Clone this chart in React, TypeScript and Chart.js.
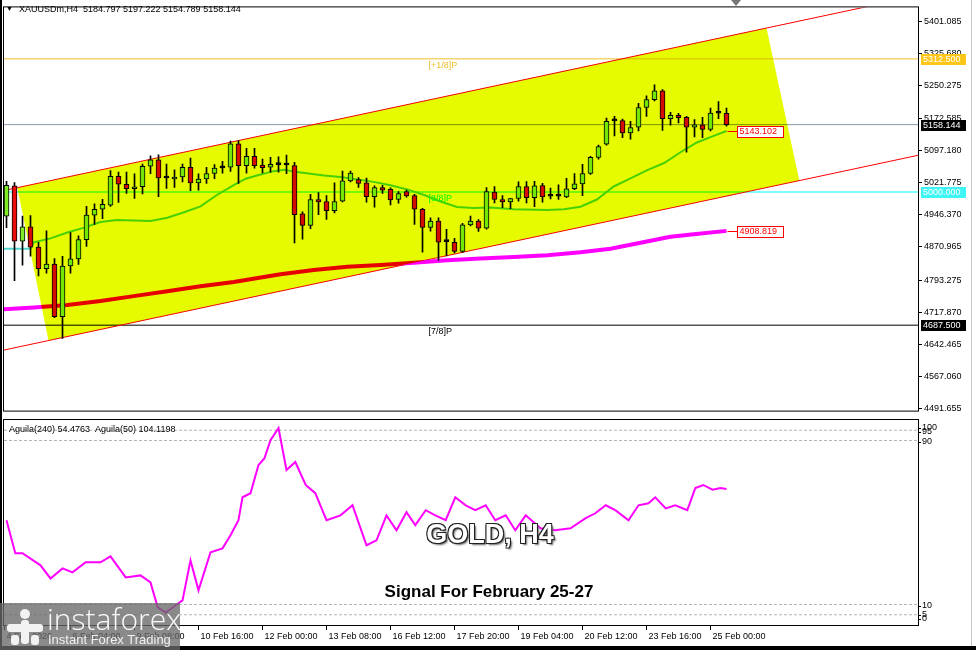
import { useEffect, useRef } from 'react';
import { Chart, registerables } from 'chart.js';

Chart.register(...registerables);
Chart.defaults.font.family = "'Liberation Sans', Arial, sans-serif";

// ---------- XAUUSDm H4 candles (index 0 = 4 Feb 2026 00:00) ----------
const barOpen = [
  4943.4, 5014.6, 4884.4, 4918.1, 4870.6, 4820.0, 4830.8, 4707.5, 4826.3, 4843.0,
  4888.3, 4945.7, 4959.5, 4969.3, 5036.6, 5018.2, 5007.7, 5012.3, 5060.5, 5075.7,
  5032.9, 5030.6, 5035.2, 5058.2, 5021.5, 5030.6, 5043.5, 5056.6, 5058.2, 5113.3,
  5061.9, 5083.5, 5063.5, 5058.2, 5064.2, 5063.5, 5061.9, 4948.7, 4921.8, 4982.4,
  4977.8, 4956.2, 4978.5, 5026.1, 5029.0, 5021.5, 4989.3, 5010.7, 5006.1, 4982.4,
  5000.8, 4991.6, 4959.5, 4917.2, 4931.9, 4883.7, 4882.1, 4860.7, 4922.7, 4931.9,
  4914.9, 4999.9, 4982.4, 4976.9, 4984.7, 5013.0, 4987.0, 5015.3, 4990.0, 4990.0,
  4988.4, 5007.7, 5019.2, 5043.5, 5081.2, 5112.4, 5166.8, 5167.5, 5138.6, 5152.4,
  5198.3, 5216.7, 5237.3, 5172.1, 5179.9, 5175.3, 5152.4, 5157.6, 5146.9, 5185.2,
  5184.797,
];
const barHigh = [
  5025.1, 5022.2, 4943.4, 4944.8, 4882.1, 4908.9, 4843.7, 4849.2, 4905.0, 4897.4,
  4966.3, 4972.3, 4983.1, 5050.4, 5046.7, 5046.7, 5042.8, 5065.8, 5084.8, 5087.1,
  5065.8, 5052.0, 5065.8, 5079.6, 5042.8, 5058.2, 5064.2, 5072.0, 5119.3, 5120.9,
  5102.5, 5102.5, 5077.3, 5081.2, 5082.5, 5086.5, 5069.7, 4953.3, 4994.6, 4998.5,
  4991.6, 5021.5, 5049.0, 5049.0, 5033.6, 5032.9, 5014.6, 5015.9, 5010.0, 5000.8,
  5004.5, 4994.6, 4961.7, 4939.5, 4939.5, 4912.6, 4891.2, 4926.4, 4943.4, 4935.6,
  5010.7, 5013.0, 4991.6, 4985.4, 5023.8, 5024.4, 5025.1, 5020.5, 5009.1, 5016.9,
  5032.0, 5043.5, 5065.1, 5083.5, 5110.1, 5173.7, 5177.6, 5171.4, 5166.1, 5208.2,
  5225.9, 5251.8, 5240.3, 5186.8, 5184.5, 5177.6, 5169.8, 5175.3, 5196.7, 5212.1,
  5197.222,
];
const barLow = [
  4916.5, 4791.8, 4828.5, 4849.2, 4803.3, 4809.3, 4705.0, 4656.3, 4809.3, 4829.9,
  4872.2, 4924.1, 4937.2, 4966.3, 4975.5, 4996.9, 4984.7, 4995.3, 5042.8, 4989.3,
  5008.4, 5010.7, 5023.8, 5003.1, 5004.5, 5019.9, 5031.3, 5044.4, 5048.1, 5019.9,
  5044.4, 5055.9, 5045.1, 5046.7, 5046.7, 5042.8, 4880.5, 4889.6, 4914.2, 4947.1,
  4935.6, 4950.9, 4976.9, 5023.8, 5010.7, 4976.2, 4964.7, 4996.9, 4970.0, 4973.9,
  4987.7, 4924.1, 4859.1, 4908.0, 4840.0, 4849.9, 4857.0, 4858.0, 4920.4, 4907.3,
  4912.6, 4974.6, 4963.1, 4960.8, 4978.5, 4974.6, 4965.4, 4976.2, 4983.8, 4982.4,
  4987.0, 5005.4, 4991.6, 5041.2, 5077.3, 5110.1, 5131.7, 5127.8, 5123.9, 5143.2,
  5177.6, 5213.5, 5144.6, 5157.0, 5162.2, 5093.3, 5129.4, 5127.8, 5143.2, 5172.1,
  5154.789,
];
const barClose = [
  5015.9, 4884.4, 4918.1, 4870.6, 4820.0, 4830.8, 4707.5, 4826.3, 4843.0, 4888.3,
  4945.7, 4959.5, 4970.9, 5036.6, 5018.2, 5007.7, 5012.3, 5060.5, 5075.7, 5032.9,
  5032.9, 5035.2, 5058.2, 5021.5, 5030.6, 5043.5, 5055.9, 5056.6, 5113.3, 5061.9,
  5083.5, 5061.9, 5057.3, 5065.1, 5064.2, 5063.5, 4947.1, 4921.8, 4982.4, 4976.9,
  4956.2, 4977.8, 5026.1, 5044.4, 5019.9, 4989.3, 5010.7, 5004.5, 4981.5, 4996.2,
  4990.7, 4959.5, 4917.2, 4931.9, 4882.1, 4883.7, 4860.7, 4922.7, 4931.9, 4914.9,
  5000.8, 4982.4, 4976.9, 4984.7, 5013.0, 4987.0, 5014.6, 4988.4, 4990.0, 4990.0,
  5007.7, 5019.2, 5043.5, 5081.2, 5106.4, 5166.1, 5166.8, 5138.6, 5151.4, 5198.3,
  5216.7, 5237.3, 5172.1, 5179.9, 5174.4, 5152.4, 5157.6, 5146.9, 5185.2, 5184.8,
  5158.144,
];

// time axis
const xTickBars = [-0.25, 8, 16, 24, 32, 40, 48, 56, 64, 72, 80, 88];
const xTickLabels = [
  '4 Feb 2026', '6 Feb 04:00', '9 Feb 08:00', '10 Feb 16:00', '12 Feb 00:00', '13 Feb 08:00',
  '16 Feb 12:00', '17 Feb 20:00', '19 Feb 04:00', '20 Feb 12:00', '23 Feb 16:00', '25 Feb 00:00',
];

// price axis
const priceTicks = [
  5401.085, 5325.68, 5250.275, 5172.585, 5097.18, 5021.775, 4946.37,
  4870.965, 4793.275, 4717.87, 4642.465, 4567.06, 4491.655,
];

// fast moving average (bar index, price)
const emaBars = [
  -0.5, 3.0, 3.4, 5.5, 7.6, 9.7, 11.75, 13.8, 15.9, 18, 20.1, 22.2, 24.25, 26.3, 28.4, 29.9,
  31.3, 33.4, 34.7, 36.3, 39.7, 41.75, 45.9, 48, 50.1, 52.2, 54.25, 56.3, 58.4, 60.5, 63.4,
  67.6, 69.7, 71.75, 73.8, 75.9, 78, 80.1, 82.2, 84.25, 86.3, 88.4, 90,
];
const emaValues = [
  4866.7, 4866.7, 4882.1, 4891.2, 4905.0, 4916.5, 4929.6, 4934.2, 4933.3, 4931.9, 4939.5,
  4952.6, 4966.3, 4993.0, 5016.0, 5031.3, 5038.9, 5049.0, 5052.0, 5046.7, 5038.9, 5035.2,
  5023.8, 5016.0, 5006.1, 4993.0, 4977.8, 4964.7, 4962.4, 4963.6, 4959.5, 4957.8, 4959.5,
  4965.4, 4982.4, 5013.0, 5032.0, 5051.3, 5068.1, 5093.3, 5116.3, 5131.7, 5143.102,
];

// slow moving average (bar index, price)
const smaBars = [
  -0.5, 3.4, 7.6, 11.75, 15.9, 20.1, 24.25, 28.4, 34.25, 38.4, 42.6, 46.75, 50.9, 55.1,
  59.25, 63.4, 67.6, 71.75, 75.5, 79.25, 83, 85.9, 90,
];
const smaValues = [
  4724.7, 4728.9, 4735.1, 4744.3, 4755.7, 4767.2, 4778.7, 4788.6, 4806.9, 4817.1, 4824.6,
  4828.5, 4833.8, 4840.0, 4843.7, 4847.6, 4851.5, 4858.4, 4866.7, 4880.9, 4895.1, 4901.1,
  4908.819,
];

// horizontal levels
const levelValues = [5312.5, 5158.144, 5000.0, 4687.5];
const levelCaptions = ['[+1/8]P', '', '[8/8]P', '[7/8]P'];
const levelColors = ['#f2bf2a', '#8a99ab', '#00ffff', '#000000'];
const levelBoxColors = ['#ffc61a', '#000000', '#3ff4f4', '#000000'];

// regression channel: two parallel borders and its shaded body
const channelBars = [-0.3125, 113.9375];
const channelUpper = [5003.55, 5460.55];
const channelLower = [4629.15, 5086.15];
const channelFillBars = [1.35, 95.0, 99.1, 5.25];
const channelFillOnUpper = [true, true, false, false];

// oscillator panel
const aguilaBars = [
  0, 1.1, 2, 4.25, 5.5, 7, 8.25, 9.9, 11.75, 13, 14.9, 16.75, 18, 18.9, 19.9, 21.1, 22, 23, 24,
  25.5, 27, 28, 29, 29.5, 30.5, 31.5, 32.25, 33, 34, 35, 36.1, 37.4, 38.6, 40, 41.75, 43.25, 45,
  46.25, 47.5, 48.75, 50, 51.1, 52.4, 53.6, 54.9, 56.1, 57.4, 58.6, 59.9, 61.1, 62.4, 63.6, 64.9,
  66.75, 68.6, 70.5, 72.4, 73.6, 74.9, 76.1, 77.75, 79, 80.25, 81.1, 82.4, 83.6, 85.1, 86.1, 87.1,
  88.25, 89.25, 90,
];
const aguilaValues = [
  51.1, 35.0, 35.0, 29.1, 22.7, 27.6, 25.7, 30.6, 30.6, 33.5, 23.2, 24.2, 20.8, 8.6, 6.1, 9.5, 12.0,
  31.5, 16.9, 35.5, 37.4, 43.8, 51.1, 62.3, 64.3, 78.0, 81.4, 90.2, 96.1, 75.6, 79.5, 68.3, 64.3,
  51.1, 53.5, 58.4, 38.9, 41.3, 53.5, 46.2, 55.0, 48.7, 56.0, 53.5, 51.1, 62.3, 58.4, 56.0, 58.4,
  51.1, 53.5, 46.2, 53.5, 47.2, 46.2, 47.2, 52.1, 54.5, 58.4, 56.0, 51.1, 58.4, 59.4, 62.3, 56.9,
  58.4, 56.0, 66.8, 68.3, 66.0, 66.8, 66.3,
];
const aguilaLevels = [95, 90, 10, 5];
const aguilaAxisLabels = [100, 95, 90, 10, 5, 0];

// ---------- layout constants ----------
const X_MIN = -0.3125;
const X_MAX = 113.9375;
const PRICE_MIN = 4487.04;
const PRICE_MAX = 5433.24;
const BULL = 'rgb(128,236,40)';
const BEAR = 'rgb(236,12,12)';
const CHANNEL_FILL = 'rgb(230,250,0)';
const FONT9 = "9px 'Liberation Sans', Arial, sans-serif";

const interp = (xs: number[], ys: number[], v: number) =>
  ys[0] + ((ys[1] - ys[0]) * (v - xs[0])) / (xs[1] - xs[0]);

const hLine = (value: number) => [
  { x: X_MIN, y: value },
  { x: X_MAX, y: value },
];

const pointsOf = (xs: number[], ys: number[]) => xs.map((x, i) => ({ x, y: ys[i] }));

const mainOverlay = {
  id: 'mainOverlay',
  afterDatasetsDraw(chart: any) {
    const { ctx, chartArea: a, scales } = chart;
    const xs = scales.x;
    const ys = scales.y;
    ctx.save();
    ctx.beginPath();
    ctx.rect(a.left, a.top, a.right - a.left, a.bottom - a.top);
    ctx.clip();

    // level captions sit just under their lines
    ctx.font = FONT9;
    ctx.textBaseline = 'top';
    ctx.textAlign = 'left';
    levelValues.forEach((v, i) => {
      if (!levelCaptions[i]) return;
      ctx.fillStyle = levelColors[i];
      ctx.fillText(levelCaptions[i], xs.getPixelForValue(52.75), ys.getPixelForValue(v) + 2);
    });

    // channel body, multiplied over everything underneath
    ctx.globalCompositeOperation = 'multiply';
    ctx.fillStyle = CHANNEL_FILL;
    ctx.beginPath();
    channelFillBars.forEach((b, i) => {
      const price = channelFillOnUpper[i]
        ? interp(channelBars, channelUpper, b)
        : interp(channelBars, channelLower, b);
      const px = xs.getPixelForValue(b);
      const py = ys.getPixelForValue(price);
      if (i === 0) ctx.moveTo(px, py);
      else ctx.lineTo(px, py);
    });
    ctx.closePath();
    ctx.fill();
    ctx.restore();
  },
  afterDraw(chart: any) {
    const { ctx, chartArea: a, scales } = chart;
    const xs = scales.x;
    const ys = scales.y;
    ctx.save();
    ctx.strokeStyle = '#000';
    ctx.lineWidth = 1;
    ctx.strokeRect(a.left - 0.5, a.top - 0.5, a.right - a.left + 1, a.bottom - a.top + 1);

    // value tags of the two averages
    ctx.font = FONT9;
    ctx.textBaseline = 'middle';
    ctx.textAlign = 'left';
    const lastBar = barClose.length - 1;
    [emaValues[emaValues.length - 1], smaValues[smaValues.length - 1]].forEach((v) => {
      const px = Math.round(xs.getPixelForValue(lastBar)) + 0.5;
      const py = Math.round(ys.getPixelForValue(v)) + 0.5;
      ctx.strokeStyle = '#ff0000';
      ctx.beginPath();
      ctx.moveTo(px, py);
      ctx.lineTo(px + 10, py);
      ctx.stroke();
      ctx.fillStyle = '#fff';
      ctx.fillRect(px + 10, py - 5, 46, 11);
      ctx.strokeRect(px + 10, py - 5, 46, 11);
      ctx.fillStyle = '#ff0000';
      ctx.fillText(v.toFixed(3), px + 12, py + 0.5);
    });

    // right-hand price boxes of the horizontal levels
    levelValues.forEach((v, i) => {
      const py = Math.round(ys.getPixelForValue(v));
      ctx.fillStyle = levelBoxColors[i];
      ctx.fillRect(a.right + 3, py - 5, 45, 11);
      ctx.fillStyle = '#fff';
      ctx.fillText(v.toFixed(3), a.right + 5, py + 0.5);
    });
    ctx.restore();
  },
};

const subOverlay = {
  id: 'subOverlay',
  afterDraw(chart: any) {
    const { ctx, chartArea: a, scales } = chart;
    const ys = scales.y;
    ctx.save();
    ctx.strokeStyle = '#000';
    ctx.lineWidth = 1;
    ctx.strokeRect(a.left - 0.5, a.top - 0.5, a.right - a.left + 1, a.bottom - a.top + 1);
    ctx.font = FONT9;
    ctx.fillStyle = '#000';
    ctx.textAlign = 'left';
    ctx.textBaseline = 'middle';
    const shift = [7.5, 1.5, 1.3, 1.2, 0, -6];
    aguilaAxisLabels.forEach((v, i) => {
      const py = ys.getPixelForValue(v);
      ctx.beginPath();
      ctx.moveTo(a.right, Math.round(py + shift[i]) + 0.5);
      ctx.lineTo(a.right + 3, Math.round(py + shift[i]) + 0.5);
      ctx.stroke();
      ctx.fillText(String(v), a.right + 4, py + shift[i]);
    });
    ctx.restore();
  },
};

export default function App() {
  const mainRef = useRef<HTMLCanvasElement>(null);
  const subRef = useRef<HTMLCanvasElement>(null);

  useEffect(() => {
    const bars = barOpen.map((_, i) => i);
    const bodyColors = bars.map((i) =>
      Math.abs(barClose[i] - barOpen[i]) < 1 ? '#000' : barClose[i] > barOpen[i] ? BULL : BEAR,
    );

    const main = new Chart(mainRef.current as HTMLCanvasElement, {
      type: 'bar',
      data: {
        datasets: [
          {
            type: 'bar',
            data: bars.map((i) => ({ x: i, y: [barOpen[i], barClose[i]] })) as any,
            backgroundColor: bodyColors,
            borderColor: '#000',
            borderWidth: 1,
            borderSkipped: false,
            barThickness: 5,
            minBarLength: 2,
            grouped: false,
            order: 1,
          } as any,
          {
            type: 'bar',
            data: bars.map((i) => ({ x: i, y: [barLow[i], barHigh[i]] })) as any,
            backgroundColor: '#000',
            borderWidth: 0,
            barThickness: 1,
            grouped: false,
            order: 2,
          } as any,
          {
            type: 'line',
            data: pointsOf(emaBars, emaValues),
            borderColor: 'rgb(80,214,206)',
            borderWidth: 2,
            pointRadius: 0,
            order: 5,
          },
          {
            type: 'line',
            data: pointsOf(smaBars, smaValues),
            borderColor: '#ff00ff',
            borderWidth: 4,
            pointRadius: 0,
            order: 6,
          },
          {
            type: 'line',
            data: pointsOf(channelBars, channelUpper),
            borderColor: '#ff0000',
            borderWidth: 1,
            pointRadius: 0,
            order: 7,
          },
          {
            type: 'line',
            data: pointsOf(channelBars, channelLower),
            borderColor: '#ff0000',
            borderWidth: 1,
            pointRadius: 0,
            order: 7,
          },
          ...levelValues.map((v, i) => ({
            type: 'line' as const,
            data: hLine(v),
            borderColor: levelColors[i],
            borderWidth: 1,
            pointRadius: 0,
            order: 8,
          })),
        ],
      },
      options: {
        responsive: false,
        animation: false,
        events: [],
        layout: { padding: { left: 4, top: 5, right: 0, bottom: 1 } },
        plugins: { legend: { display: false }, tooltip: { enabled: false } },
        scales: {
          x: {
            type: 'linear',
            min: X_MIN,
            max: X_MAX,
            display: false,
            offset: false,
            grid: { offset: false },
          },
          y: {
            type: 'linear',
            position: 'right',
            min: PRICE_MIN,
            max: PRICE_MAX,
            afterFit: (s: any) => {
              s.width = 58;
            },
            afterBuildTicks: (s: any) => {
              s.ticks = priceTicks.map((v) => ({ value: v }));
            },
            ticks: {
              callback: (v: any) => Number(v).toFixed(3),
              font: { size: 9 },
              color: '#000',
              padding: 2,
              autoSkip: false,
            },
            grid: { drawOnChartArea: false, tickLength: 4, color: '#000' },
            border: { display: false },
          },
        },
      } as any,
      plugins: [mainOverlay],
    });

    const sub = new Chart(subRef.current as HTMLCanvasElement, {
      type: 'line',
      data: {
        datasets: [
          {
            data: pointsOf(aguilaBars, aguilaValues),
            borderColor: '#ff00ff',
            borderWidth: 2,
            pointRadius: 0,
            order: 1,
          },
          ...aguilaLevels.map((v) => ({
            data: hLine(v),
            borderColor: '#b4b4b4',
            borderWidth: 1,
            borderDash: [3, 2],
            pointRadius: 0,
            order: 2,
          })),
        ],
      },
      options: {
        responsive: false,
        animation: false,
        events: [],
        layout: { padding: { left: 4, top: 2, right: 0, bottom: 0 } },
        plugins: { legend: { display: false }, tooltip: { enabled: false } },
        scales: {
          x: {
            type: 'linear',
            min: X_MIN,
            max: X_MAX,
            offset: false,
            afterFit: (s: any) => {
              s.height = 25;
            },
            afterBuildTicks: (s: any) => {
              s.ticks = xTickBars.map((v) => ({ value: v }));
            },
            ticks: {
              callback: (_v: any, idx: number) => xTickLabels[idx],
              align: 'start',
              labelOffset: 2,
              padding: 1,
              maxRotation: 0,
              autoSkip: false,
              font: { size: 9 },
              color: '#000',
            },
            grid: { drawOnChartArea: false, tickLength: 5, color: '#000', offset: false },
            border: { display: false },
          },
          y: {
            type: 'linear',
            position: 'right',
            min: 0,
            max: 100,
            afterFit: (s: any) => {
              s.width = 58;
            },
            ticks: { display: false },
            grid: { display: false },
            border: { display: false },
          },
        },
      } as any,
      plugins: [subOverlay],
    });

    return () => {
      main.destroy();
      sub.destroy();
    };
  }, []);

  const abs = (left: number, top: number, extra: any = {}) => ({
    position: 'absolute' as const,
    left,
    top,
    whiteSpace: 'nowrap' as const,
    ...extra,
  });

  return (
    <div
      style={{
        position: 'fixed',
        left: 0,
        top: 0,
        width: 976,
        height: 650,
        background: '#fff',
        overflow: 'hidden',
        fontFamily: "'Liberation Sans', Arial, sans-serif",
      }}
    >
      <canvas ref={mainRef} width={976} height={418} style={abs(0, 0)} />
      <canvas ref={subRef} width={976} height={232} style={abs(0, 418)} />

      {/* symbol header */}
      <div style={abs(6, 3, { fontSize: 7, lineHeight: '12px', color: '#000' })}>▼</div>
      <div style={abs(19, 3, { fontSize: 9, lineHeight: '12px', color: '#000' })}>
        XAUUSDm,H4&nbsp;&nbsp;5184.797 5197.222 5154.789 5158.144
      </div>
      <div
        style={abs(731, 0, {
          width: 0,
          height: 0,
          borderLeft: '5px solid transparent',
          borderRight: '5px solid transparent',
          borderTop: '6px solid #777',
        })}
      />

      {/* oscillator caption */}
      <div style={abs(9, 423, { fontSize: 9, lineHeight: '12px', color: '#000' })}>
        Aguila(240) 54.4763&nbsp;&nbsp;Aguila(50) 104.1198
      </div>

      {/* titles */}
      <div
        style={abs(0, 516, {
          width: 980,
          textAlign: 'center',
          fontSize: 27,
          fontWeight: 'bold',
          lineHeight: '36px',
          color: '#fff',
          textShadow:
            '-1px -1px 0 #222, 1px -1px 0 #222, -1px 1px 0 #222, 1px 1px 0 #222, 2px 2px 2px #666',
        })}
      >
        GOLD, H4
      </div>
      <div
        style={abs(0, 581, {
          width: 978,
          textAlign: 'center',
          fontSize: 17,
          fontWeight: 'bold',
          lineHeight: '22px',
          color: '#000',
        })}
      >
        Signal For February 25-27
      </div>

      {/* frame */}
      <div style={abs(0, 0, { width: 2, height: 650, background: '#000' })} />
      <div style={abs(0, 646, { width: 976, height: 4, background: '#000' })} />
      <div style={abs(971, 0, { width: 1, height: 646, background: '#c8c8c8' })} />

      {/* broker badge */}
      <div
        style={abs(0, 603, {
          width: 180,
          height: 47,
          background: 'rgba(105,105,105,0.78)',
        })}
      >
        <svg width="44" height="44" viewBox="0 0 44 44" style={{ position: 'absolute', left: 3, top: 2 }}>
          <g fill="#f2f2f2">
            <circle cx="22" cy="9" r="5" />
            <rect x="18" y="15" width="8" height="24" rx="3" />
            <rect x="4" y="19" width="36" height="8" rx="3" />
            <rect x="8" y="30" width="8" height="10" rx="3" />
            <rect x="28" y="30" width="8" height="10" rx="3" />
          </g>
        </svg>
        <div style={abs(47, -2, { fontSize: 30, lineHeight: '36px', color: '#fafafa', fontFamily: "'Open Sans', sans-serif", fontWeight: 300 })}>
          instaforex
        </div>
        <div style={abs(48, 29, { fontSize: 13, lineHeight: '16px', color: '#f0f0f0' })}>
          Instant Forex Trading
        </div>
      </div>
    </div>
  );
}
